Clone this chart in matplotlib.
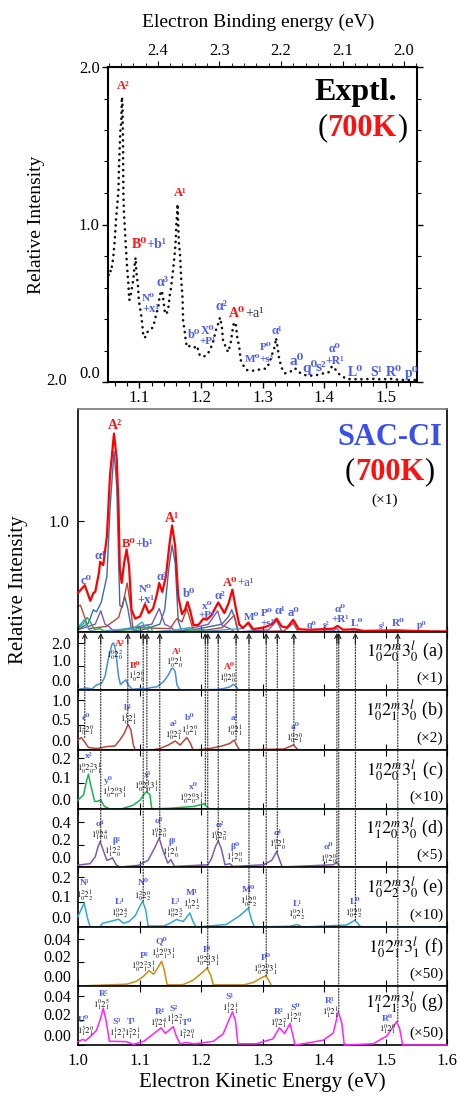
import matplotlib
matplotlib.use('Agg')
import matplotlib.pyplot as plt
from matplotlib.patches import ConnectionPatch
from matplotlib.ticker import MultipleLocator

plt.rcParams['font.family'] = ['Liberation Serif', 'DejaVu Serif']
plt.rcParams['mathtext.fontset'] = 'stix'

HNU = 3.53  # photon energy linking kinetic and binding energy axes

# ---------------- experimental spectrum ----------------
EXP_KE = [1.050, 1.052, 1.054, 1.056, 1.0575, 1.060, 1.062, 1.064, 1.066, 1.067, 1.069, 1.0705,
          1.0715, 1.0725, 1.0735, 1.074, 1.075, 1.076, 1.078, 1.080, 1.082, 1.0835, 1.085, 1.088,
          1.090, 1.093, 1.094, 1.095, 1.098, 1.099, 1.1035, 1.106, 1.109, 1.111, 1.114, 1.117,
          1.120, 1.1225, 1.125, 1.128, 1.1305, 1.133, 1.136, 1.138, 1.1415, 1.144, 1.147, 1.1496,
          1.1515, 1.155, 1.158, 1.159, 1.160, 1.1615, 1.162, 1.164, 1.166, 1.168, 1.170, 1.171,
          1.174, 1.1756, 1.178, 1.182, 1.185, 1.190, 1.1935, 1.198, 1.2035, 1.209, 1.2146, 1.220,
          1.2244, 1.228, 1.231, 1.234, 1.236, 1.2407, 1.244, 1.248, 1.2514, 1.2537, 1.2569, 1.259,
          1.262, 1.2645, 1.268, 1.274, 1.285, 1.296, 1.3068, 1.312, 1.316, 1.3203, 1.322, 1.3245,
          1.327, 1.331, 1.3366, 1.345, 1.353, 1.358, 1.3675, 1.378, 1.388, 1.399, 1.407, 1.4125,
          1.415, 1.419, 1.426, 1.437, 1.458, 1.480, 1.491, 1.510, 1.523, 1.548]
EXP_I = [0.68, 0.71, 0.70, 0.75, 0.79, 0.90, 1.03, 1.12, 1.22, 1.38, 1.59, 1.65,
         1.81, 1.78, 1.47, 1.19, 1.07, 1.00, 0.86, 0.73, 0.63, 0.52, 0.53, 0.60,
         0.65, 0.77, 0.79, 0.70, 0.60, 0.52, 0.41, 0.31, 0.28, 0.31, 0.32, 0.33,
         0.34, 0.35, 0.39, 0.44, 0.47, 0.55, 0.58, 0.55, 0.44, 0.43, 0.47, 0.56,
         0.60, 0.72, 0.84, 0.90, 1.00, 1.08, 1.13, 0.89, 0.81, 0.65, 0.54, 0.39,
         0.31, 0.25, 0.22, 0.23, 0.23, 0.22, 0.23, 0.17, 0.16, 0.17, 0.20, 0.26,
         0.33, 0.37, 0.41, 0.35, 0.26, 0.22, 0.19, 0.24, 0.33, 0.38, 0.36, 0.28,
         0.23, 0.14, 0.11, 0.076, 0.072, 0.08, 0.086, 0.13, 0.18, 0.23, 0.28, 0.22,
         0.15, 0.09, 0.055, 0.065, 0.087, 0.065, 0.045, 0.04, 0.044, 0.055, 0.06, 0.097,
         0.10, 0.076, 0.044, 0.019, 0.017, 0.02, 0.017, 0.02, 0.013, 0.013]

# ---------------- SAC-CI total and components ----------------
TOT_KE = [1.000, 1.011, 1.020, 1.025, 1.028, 1.034, 1.036, 1.041, 1.047, 1.052, 1.0585, 1.063, 1.066,
          1.068, 1.071, 1.075, 1.079, 1.083, 1.087, 1.093, 1.101, 1.109, 1.115, 1.122, 1.128, 1.132,
          1.137, 1.143, 1.149, 1.153, 1.158, 1.163, 1.169, 1.174, 1.178, 1.182, 1.188, 1.196, 1.204,
          1.209, 1.217, 1.228, 1.238, 1.245, 1.251, 1.256, 1.262, 1.268, 1.277, 1.285, 1.301, 1.307,
          1.315, 1.323, 1.331, 1.340, 1.350, 1.359, 1.377, 1.398, 1.415, 1.422, 1.431, 1.450, 1.464,
          1.518, 1.555, 1.600]
TOT_I = [0.35, 0.42, 0.28, 0.35, 0.36, 0.53, 0.63, 0.60, 0.86, 1.40, 1.78, 1.55, 1.10,
         0.56, 0.44, 0.62, 0.74, 0.59, 0.20, 0.12, 0.14, 0.25, 0.17, 0.21, 0.33, 0.44,
         0.36, 0.50, 0.80, 0.955, 0.77, 0.32, 0.16, 0.20, 0.27, 0.20, 0.06, 0.065, 0.12,
         0.11, 0.15, 0.265, 0.17, 0.26, 0.38, 0.23, 0.07, 0.035, 0.085, 0.025, 0.04, 0.05,
         0.07, 0.12, 0.05, 0.04, 0.11, 0.025, 0.02, 0.025, 0.03, 0.055, 0.02, 0.025, 0.01,
         0.015, 0.008, 0.005]

SA_KE = [1.000, 1.017, 1.025, 1.030, 1.038, 1.047, 1.052, 1.0585, 1.063, 1.068, 1.072, 1.076, 1.081,
         1.087, 1.100, 1.133, 1.141, 1.148, 1.153, 1.158, 1.163, 1.169, 1.234, 1.245, 1.250, 1.255,
         1.260, 1.600]
SA_I = [0.02, 0.08, 0.20, 0.18, 0.27, 0.50, 1.10, 1.62, 1.31, 0.24, 0.22, 0.32, 0.21,
        0.02, 0.01, 0.07, 0.20, 0.59, 0.78, 0.62, 0.10, 0.0, 0.07, 0.14, 0.20, 0.12,
        0.0, 0.0]
SB_KE = [1.000, 1.004, 1.011, 1.017, 1.046, 1.066, 1.074, 1.080, 1.085, 1.089, 1.150, 1.158, 1.161,
         1.169, 1.177, 1.185, 1.188, 1.235, 1.254, 1.261, 1.335, 1.350, 1.358, 1.600]
SB_I = [0.23, 0.24, 0.13, 0.03, 0.05, 0.13, 0.28, 0.44, 0.25, 0.04, 0.03, 0.10, 0.12,
        0.09, 0.21, 0.06, 0.0, 0.04, 0.15, 0.0, 0.01, 0.08, 0.0, 0.0]
SC_KE = [1.000, 1.008, 1.015, 1.020, 1.027, 1.036, 1.045, 1.100, 1.112, 1.118, 1.122, 1.205, 1.213, 1.600]
SC_I = [0.03, 0.07, 0.13, 0.09, 0.02, 0.03, 0.0, 0.03, 0.06, 0.04, 0.0, 0.02, 0.0, 0.0]
SD_KE = [1.000, 1.028, 1.037, 1.044, 1.050, 1.058, 1.120, 1.132, 1.141, 1.152, 1.160, 1.212, 1.227,
         1.234, 1.247, 1.255, 1.310, 1.323, 1.332, 1.415, 1.421, 1.426, 1.600]
SD_I = [0.02, 0.07, 0.19, 0.07, 0.05, 0.01, 0.07, 0.21, 0.07, 0.04, 0.0, 0.07, 0.19,
        0.06, 0.03, 0.0, 0.02, 0.10, 0.0, 0.01, 0.03, 0.0, 0.0]
SE_KE = [1.000, 1.010, 1.018, 1.030, 1.060, 1.090, 1.104, 1.112, 1.120, 1.160, 1.182, 1.190, 1.265,
         1.277, 1.285, 1.440, 1.450, 1.460, 1.600]
SE_I = [0.04, 0.11, 0.02, 0.0, 0.02, 0.03, 0.09, 0.02, 0.0, 0.02, 0.04, 0.0, 0.03,
        0.07, 0.0, 0.0, 0.02, 0.0, 0.0]

# ---------------- component panels (a)-(g) ----------------
PA_KE = [1.000, 1.014, 1.023, 1.030, 1.038, 1.044, 1.049, 1.055, 1.0565, 1.0575, 1.059, 1.061, 1.066,
         1.069, 1.072, 1.0775, 1.082, 1.088, 1.100, 1.112, 1.120, 1.128, 1.139, 1.147, 1.152, 1.1535,
         1.155, 1.158, 1.161, 1.166, 1.225, 1.236, 1.247, 1.2525, 1.257, 1.261, 1.600]
PA_I = [0.03, 0.08, 0.05, 0.21, 0.28, 0.57, 1.28, 1.91, 1.97, 1.99, 1.90, 1.70, 0.57,
        0.23, 0.30, 0.43, 0.21, 0.03, 0.06, 0.06, 0.11, 0.13, 0.35, 0.64, 0.90, 0.92,
        0.90, 0.78, 0.21, 0.0, 0.02, 0.06, 0.13, 0.24, 0.15, 0.0, 0.0]
PB_KE = [1.000, 1.005, 1.011, 1.017, 1.030, 1.036, 1.048, 1.060, 1.068, 1.075, 1.080, 1.082, 1.086,
         1.090, 1.093, 1.120, 1.133, 1.147, 1.158, 1.166, 1.177, 1.183, 1.187, 1.210, 1.231, 1.247,
         1.254, 1.259, 1.263, 1.335, 1.350, 1.356, 1.358, 1.600]
PB_I = [0.20, 0.25, 0.16, 0.05, 0.03, 0.04, 0.07, 0.08, 0.20, 0.33, 0.47, 0.50, 0.40,
        0.10, 0.0, 0.0, 0.03, 0.10, 0.18, 0.10, 0.25, 0.13, 0.0, 0.02, 0.07, 0.13,
        0.20, 0.07, 0.0, 0.02, 0.10, 0.03, 0.0, 0.0]
PC_KE = [1.000, 1.009, 1.014, 1.017, 1.020, 1.027, 1.032, 1.037, 1.043, 1.052, 1.070, 1.090, 1.101,
         1.108, 1.112, 1.117, 1.120, 1.150, 1.188, 1.205, 1.210, 1.213, 1.600]
PC_I = [0.035, 0.055, 0.11, 0.136, 0.10, 0.03, 0.03, 0.035, 0.01, 0.0, 0.0, 0.015, 0.035,
        0.06, 0.067, 0.055, 0.0, 0.003, 0.01, 0.02, 0.008, 0.0, 0.0]
PD_KE = [1.000, 1.0195, 1.028, 1.033, 1.036, 1.041, 1.047, 1.052, 1.056, 1.062, 1.068, 1.098, 1.114,
         1.125, 1.132, 1.138, 1.146, 1.151, 1.157, 1.211, 1.217, 1.224, 1.228, 1.233, 1.239, 1.247,
         1.252, 1.302, 1.315, 1.323, 1.328, 1.332, 1.415, 1.4205, 1.426, 1.600]
PD_I = [0.017, 0.03, 0.09, 0.19, 0.227, 0.15, 0.06, 0.07, 0.083, 0.02, 0.0, 0.015, 0.06,
        0.175, 0.26, 0.15, 0.035, 0.066, 0.005, 0.02, 0.075, 0.19, 0.233, 0.165, 0.02, 0.03,
        0.005, 0.02, 0.06, 0.138, 0.06, 0.0, 0.02, 0.04, 0.0, 0.0]
PE_KE = [1.000, 1.010, 1.016, 1.020, 1.035, 1.040, 1.057, 1.066, 1.074, 1.083, 1.093, 1.100, 1.105,
         1.110, 1.114, 1.140, 1.1496, 1.160, 1.171, 1.182, 1.187, 1.192, 1.241, 1.263, 1.277, 1.282,
         1.287, 1.345, 1.356, 1.365, 1.437, 1.450, 1.460, 1.600]
PE_I = [0.042, 0.096, 0.03, 0.0, 0.0, 0.015, 0.025, 0.031, 0.015, 0.022, 0.045, 0.08, 0.103,
        0.07, 0.004, 0.004, 0.015, 0.03, 0.022, 0.056, 0.022, 0.0, 0.01, 0.045, 0.076, 0.03,
        0.0, 0.003, 0.01, 0.0, 0.008, 0.027, 0.0, 0.0]
PF_KE = [1.000, 1.079, 1.095, 1.106, 1.1155, 1.123, 1.128, 1.136, 1.140, 1.145, 1.170, 1.1875, 1.201,
         1.210, 1.216, 1.220, 1.270, 1.285, 1.298, 1.3057, 1.311, 1.315, 1.600]
PF_I = [0.0, 0.0015, 0.004, 0.008, 0.013, 0.010, 0.014, 0.021, 0.014, 0.001, 0.001, 0.005, 0.011,
        0.0152, 0.009, 0.001, 0.001, 0.003, 0.007, 0.0086, 0.004, 0.0, 0.0]
PG_KE = [1.000, 1.008, 1.012, 1.021, 1.030, 1.037, 1.041, 1.046, 1.051, 1.060, 1.079, 1.090, 1.107,
         1.1225, 1.135, 1.142, 1.155, 1.160, 1.166, 1.175, 1.190, 1.220, 1.236, 1.244, 1.251, 1.256,
         1.260, 1.290, 1.317, 1.3274, 1.336, 1.3447, 1.349, 1.353, 1.378, 1.399, 1.415, 1.4233, 1.429,
         1.433, 1.480, 1.502, 1.518, 1.523, 1.528, 1.600]
PG_I = [0.0027, 0.0046, 0.0035, 0.0073, 0.012, 0.022, 0.030, 0.019, 0.003, 0.003, 0.0027, 0.0005, 0.003,
        0.009, 0.014, 0.0095, 0.0149, 0.007, 0.001, 0.002, 0.001, 0.003, 0.009, 0.0187, 0.027, 0.020,
        0.001, 0.001, 0.005, 0.014, 0.0093, 0.0176, 0.0087, 0.0, 0.002, 0.004, 0.0097, 0.027, 0.0176,
        0.0, 0.001, 0.0073, 0.019, 0.0133, 0.0, 0.0]

PANEL_KE = [PA_KE, PB_KE, PC_KE, PD_KE, PE_KE, PF_KE, PG_KE]
PANEL_I = [PA_I, PB_I, PC_I, PD_I, PE_I, PF_I, PG_I]
PANEL_LETTER = ['a', 'b', 'c', 'd', 'e', 'f', 'g']
PANEL_SERIES = [r'$1^{n}_{0}2^{m}_{0}3^{l}_{0}$', r'$1^{n}_{0}2^{m}_{1}3^{l}_{0}$',
                r'$1^{n}_{0}2^{m}_{0}3^{l}_{1}$', r'$1^{n}_{1}2^{m}_{0}3^{l}_{0}$',
                r'$1^{n}_{0}2^{m}_{2}3^{l}_{0}$', r'$1^{n}_{0}2^{m}_{1}3^{l}_{1}$',
                r'$1^{n}_{1}2^{m}_{1}3^{l}_{0}$']
PANEL_SCALE = ['(×1)', '(×2)', '(×10)', '(×5)', '(×10)', '(×50)', '(×50)']
PANEL_YTICKS = [[0.0, 1.0, 2.0], [0.0, 0.5, 1.0], [0.0, 0.1, 0.2], [0.0, 0.2, 0.4],
                [0.0, 0.1, 0.2], [0.0, 0.02, 0.04], [0.0, 0.02, 0.04]]
PANEL_YTICKLABELS = [['0.0', '1.0', '2.0'], ['0.0', '0.5', '1.0'], ['0.0', '0.1', '0.2'],
                     ['0.0', '0.2', '0.4'], ['0.0', '0.1', '0.2'], ['0.00', '0.02', '0.04'],
                     ['0.00', '0.02', '0.04']]
X_TICKS = [1.0, 1.1, 1.2, 1.3, 1.4, 1.5, 1.6]
X_TICKLABELS = ['1.0', '1.1', '1.2', '1.3', '1.4', '1.5', '1.6']

# dotted guide lines: kinetic energy, target panel index, peak value in that panel
GUIDE_KE = [1.011, 1.037, 1.081, 1.106, 1.112, 1.133, 1.207, 1.211, 1.228, 1.257, 1.278, 1.306,
            1.324, 1.351, 1.421, 1.424, 1.451, 1.520]
GUIDE_PANEL = [1, 3, 1, 4, 2, 3, 2, 5, 3, 1, 4, 5, 3, 1, 3, 6, 4, 6]
GUIDE_VAL = [0.25, 0.227, 0.50, 0.103, 0.067, 0.26, 0.02, 0.0152, 0.233, 0.20, 0.076, 0.0086,
             0.138, 0.10, 0.04, 0.027, 0.027, 0.019]

# ---------------- styling ----------------
RED = '#ff1010'
BLUE = '#4a5cf0'
NAVY = '#333366'
COL_TOT = '#ff0000'
COL_SAC = ['#3a6ea8', '#b5473f', '#22b04c', '#7b5ea7', '#33aacc']
COL_PANEL = ['#4a8fd0', '#b5473f', '#1db34f', '#7b5ea7', '#33aacc', '#c8900e', '#ff22ff']
PANEL_YMAX = [2.45, 1.2, 0.23, 0.52, 0.24, 0.05, 0.048]
SERIES_Y = [0.64, 0.64, 0.64, 0.64, 0.64, 0.64, 0.70]

W, H = 457, 1097
fig = plt.figure(figsize=(W / 100, H / 100), dpi=100)


def rect(l, t, r, b):
    return [l / W, 1 - b / H, (r - l) / W, (b - t) / H]


# ================= top: experimental =================
ax0 = fig.add_axes(rect(108, 67, 417, 382))
ax0.plot(EXP_KE, EXP_I, color='#111111', lw=1.9, linestyle=(0, (0.05, 2.2)),
         dash_capstyle='round', solid_capstyle='round')
ax0.set_xlim(1.049, 1.551)
ax0.set_ylim(0, 2.0)
ax0.set_xticks([1.1, 1.2, 1.3, 1.4, 1.5])
ax0.set_xticklabels(['1.1', '1.2', '1.3', '1.4', '1.5'])
ax0.xaxis.set_minor_locator(MultipleLocator(0.02))
ax0.set_yticks([0.0, 1.0, 2.0])
ax0.set_yticklabels(['0.0', '1.0', '2.0'])
ax0.yaxis.set_minor_locator(MultipleLocator(0.2))
ax0.tick_params(which='both', direction='out', right=True, labelsize=12, pad=2)
ax0.tick_params(which='major', length=4, width=1.0)
ax0.tick_params(which='minor', length=3, width=0.8)
ax0.yaxis.get_major_ticks()[0].label1.set_verticalalignment('bottom')
for s in ax0.spines.values():
    s.set_linewidth(1.5)
ax0.set_ylabel('Relative Intensity', fontsize=14)
ax0.yaxis.set_label_coords(-0.205, 0.5)

sec = ax0.secondary_xaxis('top', functions=(lambda k: HNU - k, lambda b: HNU - b))
sec.set_xticks([2.0, 2.1, 2.2, 2.3, 2.4])
sec.set_xticklabels(['2.0', '2.1', '2.2', '2.3', '2.4'])
sec.xaxis.set_minor_locator(MultipleLocator(0.02))
sec.tick_params(which='both', direction='out', labelsize=12, pad=2)
sec.tick_params(which='major', length=4)
sec.tick_params(which='minor', length=3)
fig.text(258 / W, 1 - 22 / H, 'Electron Binding energy (eV)', ha='center', va='center', fontsize=14)
fig.text(57 / W, 1 - 381 / H, '2.0', ha='center', va='center', fontsize=12)

ax0.text(0.803, 0.92, 'Exptl.', transform=ax0.transAxes, ha='center', va='center',
         fontsize=23, fontweight='bold')
t7 = ax0.text(0.822, 0.806, '700K', transform=ax0.transAxes, ha='center', va='center',
              fontsize=22, fontweight='bold', color=RED)
ax0.annotate('(', xy=(0, 0), xycoords=t7, ha='right', va='bottom', fontsize=22)
ax0.annotate(')', xy=(1, 0), xycoords=t7, ha='left', va='bottom', fontsize=22)

TOP_LABELS = [
    ('A²', RED, 1.073, 1.88, 9), ('A¹', RED, 1.166, 1.20, 9), ('N⁰', BLUE, 1.114, 0.53, 8),
    ('+x¹', BLUE, 1.118, 0.465, 9), ('α³', BLUE, 1.138, 0.63, 10), ('b⁰', BLUE, 1.189, 0.30, 9),
    ('X⁰', BLUE, 1.211, 0.325, 8.5), ('+P¹', BLUE, 1.211, 0.255, 8), ('α²', BLUE, 1.2336, 0.48, 10),
    ('M⁰', BLUE, 1.283, 0.146, 8), ('+s³', BLUE, 1.307, 0.146, 8), ('P⁰', BLUE, 1.305, 0.22, 8),
    ('α¹', BLUE, 1.324, 0.325, 9), ('a⁰', BLUE, 1.3556, 0.13, 11), ('q⁰', BLUE, 1.377, 0.095, 11),
    ('s²', BLUE, 1.3946, 0.09, 11), ('α⁰', BLUE, 1.4168, 0.21, 8.5), ('+R¹', BLUE, 1.4175, 0.135, 8.5),
    ('L⁰', BLUE, 1.4504, 0.06, 10), ('S¹', BLUE, 1.4857, 0.06, 10), ('R⁰', BLUE, 1.5127, 0.06, 10),
    ('p⁰', BLUE, 1.5426, 0.06, 10)]
for txt, c, x, y, fs in TOP_LABELS:
    ax0.text(x, y, txt, color=c, fontsize=fs, fontweight='bold', ha='center', va='center')
tb = ax0.text(1.087, 0.87, 'B⁰', color=RED, fontsize=10, fontweight='bold', ha='left', va='center')
ax0.annotate('+b¹', xy=(1, 0), xycoords=tb, ha='left', va='bottom', color=BLUE, fontsize=10,
             fontweight='bold')
ta = ax0.text(1.246, 0.435, 'A⁰', color=RED, fontsize=10, fontweight='bold', ha='left', va='center')
ax0.annotate('+a¹', xy=(1, 0), xycoords=ta, ha='left', va='bottom', color=NAVY, fontsize=10)

# ================= SAC-CI total =================
ax1 = fig.add_axes(rect(78, 409, 447, 632))
for kx, iy, c in zip([SA_KE, SB_KE, SC_KE, SD_KE, SE_KE], [SA_I, SB_I, SC_I, SD_I, SE_I], COL_SAC):
    ax1.plot(kx, iy, color=c, lw=1.0, clip_on=False)
ax1.plot(TOT_KE, TOT_I, color=COL_TOT, lw=1.6, clip_on=False, zorder=4)
ax1.set_xlim(1.0, 1.6)
ax1.set_ylim(0, 2.0)
ax1.set_xticks(X_TICKS)
ax1.set_xticklabels([])
ax1.set_yticks([1.0])
ax1.set_yticklabels(['1.0'])
ax1.tick_params(direction='in', length=4, labelsize=12, pad=6)
for s in ax1.spines.values():
    s.set_linewidth(1.2)
ax1.spines['top'].set_color('#777777')

ax1.text(0.845, 0.874, 'SAC-CI', transform=ax1.transAxes, ha='center', va='center', fontsize=22,
         fontweight='bold', color='#3a4ee8')
s7 = ax1.text(0.845, 0.717, '700K', transform=ax1.transAxes, ha='center', va='center', fontsize=22,
              fontweight='bold', color=RED)
ax1.annotate('(', xy=(0, 0), xycoords=s7, ha='right', va='bottom', fontsize=22)
ax1.annotate(')', xy=(1, 0), xycoords=s7, ha='left', va='bottom', fontsize=22)
ax1.text(0.832, 0.59, '(×1)', transform=ax1.transAxes, ha='center', va='center', fontsize=11)

SAC_LABELS = [
    ('c⁰', BLUE, 1.013, 0.46, 9), ('α⁴', BLUE, 1.036, 0.68, 9), ('A²', RED, 1.060, 1.85, 10),
    ('N⁰', BLUE, 1.109, 0.38, 8), ('+x¹', BLUE, 1.110, 0.29, 9), ('α³', BLUE, 1.136, 0.49, 9),
    ('A¹', RED, 1.153, 1.02, 10), ('b⁰', BLUE, 1.181, 0.34, 9), ('x⁰', BLUE, 1.210, 0.23, 8),
    ('+P¹', BLUE, 1.209, 0.15, 8), ('α²', BLUE, 1.231, 0.32, 9), ('M⁰', BLUE, 1.282, 0.13, 8),
    ('P⁰', BLUE, 1.307, 0.17, 8), ('+s³', BLUE, 1.308, 0.08, 8), ('α¹', BLUE, 1.328, 0.19, 9),
    ('a⁰', BLUE, 1.351, 0.17, 9), ('q⁰', BLUE, 1.380, 0.06, 7), ('s²', BLUE, 1.404, 0.06, 7),
    ('α⁰', BLUE, 1.426, 0.20, 8), ('+R¹', BLUE, 1.427, 0.11, 8), ('L⁰', BLUE, 1.453, 0.08, 8),
    ('s¹', BLUE, 1.494, 0.05, 7), ('R⁰', BLUE, 1.521, 0.08, 8), ('p⁰', BLUE, 1.559, 0.06, 7)]
for txt, c, x, y, fs in SAC_LABELS:
    ax1.text(x, y, txt, color=c, fontsize=fs, fontweight='bold', ha='center', va='center', zorder=6)
sb = ax1.text(1.071, 0.79, 'B⁰', color=RED, fontsize=9, fontweight='bold', ha='left', va='center')
ax1.annotate('+b¹', xy=(1, 0), xycoords=sb, ha='left', va='bottom', color=BLUE, fontsize=9,
             fontweight='bold')
sa = ax1.text(1.235, 0.44, 'A⁰', color=RED, fontsize=9, fontweight='bold', ha='left', va='center')
ax1.annotate('+a¹', xy=(1, 0), xycoords=sa, ha='left', va='bottom', color='#4050c0', fontsize=9)

# ================= component panels =================
tops = [632, 690, 750, 809, 867, 927, 986, 1045]
axp = []
for i in range(7):
    ax = fig.add_axes(rect(78, tops[i], 447, tops[i + 1]))
    axp.append(ax)
    ax.plot(PANEL_KE[i], PANEL_I[i], color=COL_PANEL[i], lw=1.1, clip_on=False, zorder=3)
    ax.set_xlim(1.0, 1.6)
    ax.set_ylim(0, PANEL_YMAX[i])
    ax.set_xticks(X_TICKS)
    ax.set_yticks(PANEL_YTICKS[i])
    ax.set_yticklabels(PANEL_YTICKLABELS[i])
    ax.tick_params(direction='in', length=4, labelsize=11.5, pad=5, top=True)
    yt = ax.yaxis.get_major_ticks()
    yt[0].label1.set_verticalalignment('bottom')
    yt[1].label1.set_verticalalignment('baseline')
    if i < 6:
        ax.set_xticklabels([])
    else:
        ax.set_xticklabels(X_TICKLABELS)
        ax.tick_params(axis='x', pad=6, labelsize=12)
    for s in ax.spines.values():
        s.set_linewidth(1.2)
    ax.text(0.99, SERIES_Y[i], PANEL_SERIES[i] + ' (' + PANEL_LETTER[i] + ')', transform=ax.transAxes,
            ha='right', va='center', fontsize=13)
    ax.text(0.99, 0.2, PANEL_SCALE[i], transform=ax.transAxes, ha='right', va='center', fontsize=11)

PEAK_LABELS = [
    [('A²', RED, 1.068, 1.93, r'$1^{0}_{0}2^{2}_{0}$', 1.060, 1.48),
     ('B⁰', RED, 1.093, 1.00, r'$1^{1}_{0}2^{0}_{0}$', 1.095, 0.55),
     ('A¹', RED, 1.160, 1.60, r'$1^{0}_{0}2^{1}_{0}$', 1.158, 1.17),
     ('A⁰', RED, 1.247, 0.96, r'$1^{0}_{0}2^{0}_{0}$', 1.243, 0.50)],
    [('c⁰', BLUE, 1.013, 0.64, r'$1^{2}_{0}2^{0}_{1}$', 1.013, 0.39),
     ('b¹', BLUE, 1.082, 0.84, r'$1^{1}_{0}2^{1}_{1}$', 1.082, 0.61),
     ('a²', BLUE, 1.155, 0.52, r'$1^{0}_{0}2^{2}_{1}$', 1.155, 0.29),
     ('b⁰', BLUE, 1.181, 0.64, r'$1^{1}_{0}2^{0}_{1}$', 1.181, 0.39),
     ('a¹', BLUE, 1.255, 0.64, r'$1^{0}_{0}2^{1}_{1}$', 1.255, 0.39),
     ('a⁰', BLUE, 1.353, 0.46, r'$1^{0}_{0}2^{0}_{1}$', 1.353, 0.23)],
    [('x²', BLUE, 1.017, 0.205, r'$1^{0}_{0}2^{2}_{0}3^{1}_{1}$', 1.018, 0.157),
     ('y⁰', BLUE, 1.049, 0.11, r'$1^{1}_{0}2^{0}_{0}3^{1}_{1}$', 1.060, 0.062),
     ('x¹', BLUE, 1.113, 0.134, r'$1^{0}_{0}2^{1}_{0}3^{1}_{1}$', 1.112, 0.086),
     ('x⁰', BLUE, 1.1875, 0.086, r'$1^{0}_{0}2^{0}_{0}3^{1}_{1}$', 1.185, 0.038)],
    [('α⁴', BLUE, 1.036, 0.39, r'$1^{0}_{1}2^{4}_{0}$', 1.036, 0.285),
     ('β²', BLUE, 1.063, 0.235, r'$1^{1}_{1}2^{2}_{0}$', 1.057, 0.135),
     ('α³', BLUE, 1.132, 0.415, r'$1^{0}_{1}2^{3}_{0}$', 1.132, 0.305),
     ('β¹', BLUE, 1.154, 0.225, r'$1^{1}_{1}2^{1}_{0}$', 1.150, 0.125),
     ('α²', BLUE, 1.231, 0.38, r'$1^{0}_{1}2^{2}_{0}$', 1.229, 0.275),
     ('β⁰', BLUE, 1.255, 0.18, r'$1^{1}_{1}2^{0}_{0}$', 1.255, 0.085),
     ('α¹', BLUE, 1.325, 0.305, r'$1^{0}_{1}2^{1}_{0}$', 1.325, 0.195),
     ('α⁰', BLUE, 1.407, 0.175, r'$1^{0}_{1}2^{0}_{0}$', 1.407, 0.075)],
    [('N¹', BLUE, 1.011, 0.176, r'$1^{2}_{0}2^{1}_{2}$', 1.011, 0.124),
     ('L⁴', BLUE, 1.068, 0.10, r'$1^{0}_{0}2^{4}_{2}$', 1.068, 0.056),
     ('N⁰', BLUE, 1.106, 0.176, r'$1^{2}_{0}2^{0}_{2}$', 1.106, 0.124),
     ('L³', BLUE, 1.158, 0.10, r'$1^{0}_{0}2^{3}_{2}$', 1.158, 0.056),
     ('M¹', BLUE, 1.185, 0.135, r'$1^{1}_{0}2^{1}_{2}$', 1.185, 0.088),
     ('M⁰', BLUE, 1.277, 0.15, r'$1^{1}_{0}2^{0}_{2}$', 1.277, 0.101),
     ('L¹', BLUE, 1.356, 0.09, r'$1^{0}_{0}2^{1}_{2}$', 1.355, 0.047),
     ('L⁰', BLUE, 1.450, 0.10, r'$1^{0}_{0}2^{0}_{2}$', 1.449, 0.056)],
    [('P²', BLUE, 1.108, 0.0255, r'$1^{0}_{0}2^{2}_{1}3^{1}_{1}$', 1.106, 0.0163),
     ('Q⁰', BLUE, 1.136, 0.038, r'$1^{1}_{0}2^{0}_{1}3^{1}_{1}$', 1.139, 0.0275),
     ('P¹', BLUE, 1.210, 0.0305, r'$1^{0}_{0}2^{1}_{1}3^{1}_{1}$', 1.210, 0.0213),
     ('P⁰', BLUE, 1.305, 0.024, r'$1^{0}_{0}2^{0}_{1}3^{1}_{1}$', 1.305, 0.014)],
    [('U⁰', BLUE, 1.009, 0.0205, r'$1^{3}_{1}2^{0}_{1}$', 1.013, 0.0115),
     ('R⁵', BLUE, 1.041, 0.0415, r'$1^{0}_{1}2^{5}_{1}$', 1.0385, 0.033),
     ('S³', BLUE, 1.063, 0.0185, r'$1^{1}_{1}2^{3}_{1}$', 1.064, 0.0095),
     ('T¹', BLUE, 1.087, 0.0185, r'$1^{2}_{1}2^{1}_{1}$', 1.089, 0.0095),
     ('R⁴', BLUE, 1.132, 0.0268, r'$1^{0}_{1}2^{4}_{1}$', 1.132, 0.0178),
     ('S²', BLUE, 1.156, 0.0295, r'$1^{1}_{1}2^{2}_{1}$', 1.158, 0.0205),
     ('T⁰', BLUE, 1.178, 0.0175, r'$1^{2}_{1}2^{0}_{1}$', 1.177, 0.009),
     ('S¹', BLUE, 1.247, 0.039, r'$1^{1}_{1}2^{1}_{1}$', 1.248, 0.0295),
     ('R²', BLUE, 1.326, 0.0268, r'$1^{0}_{1}2^{2}_{1}$', 1.326, 0.0178),
     ('S⁰', BLUE, 1.353, 0.0305, r'$1^{1}_{1}2^{0}_{1}$', 1.351, 0.022),
     ('R¹', BLUE, 1.410, 0.036, r'$1^{0}_{1}2^{1}_{1}$', 1.410, 0.0265),
     ('R⁰', BLUE, 1.5035, 0.0212, r'$1^{0}_{1}2^{0}_{1}$', 1.5035, 0.0132)],
]
for ax, labs in zip(axp, PEAK_LABELS):
    for name, c, x, y, asg, ax_, ay in labs:
        ax.text(x, y, name, color=c, fontsize=6.8, fontweight='bold', ha='center', va='center', zorder=6)
        ax.text(ax_, ay, asg, color='#111111', fontsize=6.3, ha='center', va='center', zorder=6)

# dotted guide lines with arrow heads
for ke, pi, val in zip(GUIDE_KE, GUIDE_PANEL, GUIDE_VAL):
    con = ConnectionPatch(xyA=(ke, val), coordsA=axp[pi].transData,
                          xyB=(ke, PANEL_YMAX[0] * 0.93), coordsB=axp[0].transData,
                          linestyle=(0, (1, 1.5)), lw=0.8, color='#222222', zorder=5)
    fig.add_artist(con)
    axp[0].annotate('', xy=(ke, PANEL_YMAX[0] * 0.985), xytext=(ke, PANEL_YMAX[0] * 0.8),
                    arrowprops=dict(arrowstyle='->', lw=0.8, color='#222222', shrinkA=0, shrinkB=0,
                                    mutation_scale=8))

fig.text(19 / W, 1 - 590 / H, 'Relative Intensity', rotation=90, ha='center', va='center', fontsize=15)
fig.text(262 / W, 1 - 1082 / H, 'Electron Kinetic Energy (eV)', ha='center', va='center', fontsize=15)

fig.savefig('out.png', dpi=100)
